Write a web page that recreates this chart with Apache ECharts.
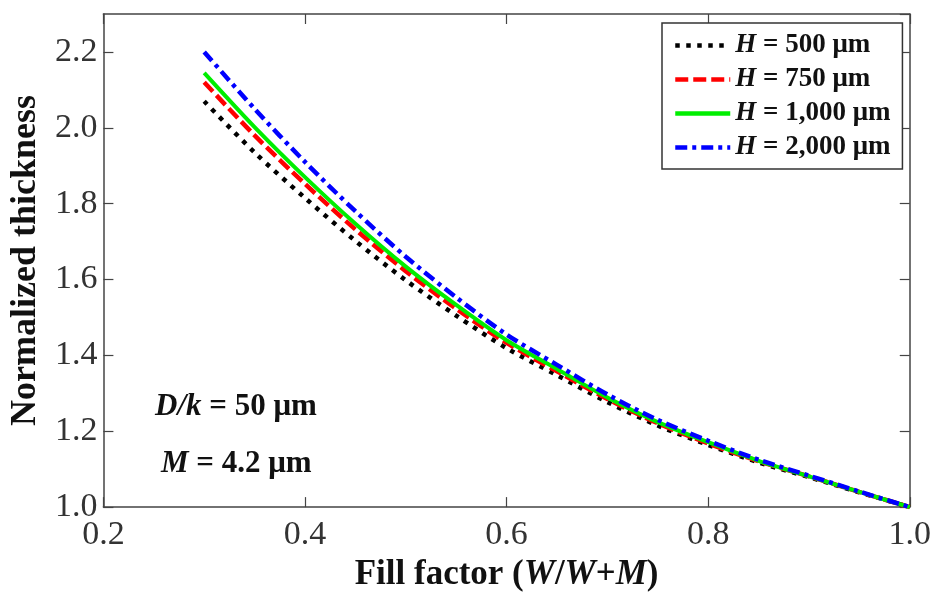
<!DOCTYPE html>
<html>
<head>
<meta charset="utf-8">
<title>Normalized thickness vs fill factor</title>
<script src="https://cdn.jsdelivr.net/npm/echarts@6/dist/echarts.min.js"></script>
<style>
html, body { margin: 0; padding: 0; background: #fff; }
#main { width: 934px; height: 597px; }
</style>
</head>
<body>
<div id="main"></div>
<script>
// values
var fillFactor = [0.30, 0.35, 0.40, 0.45, 0.50, 0.55, 0.60, 0.65, 0.70, 0.75, 0.80, 0.85, 0.90, 0.95, 1.00];
var h500  = [2.070, 1.935, 1.815, 1.702, 1.598, 1.505, 1.419, 1.348, 1.277, 1.215, 1.164, 1.118, 1.079, 1.039, 1.000];
var h750  = [2.120, 1.980, 1.852, 1.732, 1.622, 1.523, 1.433, 1.358, 1.285, 1.221, 1.168, 1.121, 1.081, 1.040, 1.000];
var h1000 = [2.145, 2.002, 1.870, 1.747, 1.634, 1.533, 1.440, 1.364, 1.289, 1.224, 1.171, 1.122, 1.081, 1.040, 1.000];
var h2000 = [2.200, 2.050, 1.910, 1.780, 1.660, 1.553, 1.455, 1.375, 1.297, 1.230, 1.175, 1.125, 1.083, 1.041, 1.000];
var seriesNames = ['H = 500 μm', 'H = 750 μm', 'H = 1,000 μm', 'H = 2,000 μm'];
var seriesColors = ['#000000', '#ff0000', '#00ee00', '#0000ff'];

var serif = "'Liberation Serif', 'Times New Roman', serif";

function pairs(ys) {
    var out = [];
    for (var i = 0; i < fillFactor.length; i++) {
        out.push([fillFactor[i], ys[i]]);
    }
    return out;
}

var myChart = echarts.init(document.getElementById('main'));

var frameAxis = {
    axisLine: { show: true, onZero: false, lineStyle: { color: '#444', width: 1.5 } },
    axisTick: { show: true, inside: true, length: 10, lineStyle: { color: '#444', width: 1.2 } },
    splitLine: { show: false }
};

var option = {
    backgroundColor: '#fff',
    animation: false,
    grid: { left: 102, right: 24, top: 14, bottom: 79 },
    xAxis: [{
        type: 'value', position: 'bottom', min: 0.2, max: 1.0, interval: 0.2,
        axisLine: frameAxis.axisLine, axisTick: frameAxis.axisTick, splitLine: frameAxis.splitLine,
        axisLabel: { fontFamily: serif, fontSize: 34, color: '#333', margin: 11,
            formatter: function (v) { return v.toFixed(1); } },
        name: '{b|Fill factor (}{i|W}{b|/}{i|W}{b|+}{i|M}{b|)}',
        nameLocation: 'middle', nameGap: 44,
        nameTextStyle: {
            rich: {
                b: { fontFamily: serif, fontSize: 35, fontWeight: 'bold', color: '#111' },
                i: { fontFamily: serif, fontSize: 35, fontWeight: 'bold', fontStyle: 'italic', color: '#111' }
            }
        }
    }, {
        type: 'value', position: 'top', min: 0.2, max: 1.0, interval: 0.2,
        axisLine: frameAxis.axisLine, axisTick: frameAxis.axisTick, splitLine: frameAxis.splitLine,
        axisLabel: { show: false }
    }],
    yAxis: [{
        type: 'value', position: 'left', min: 1.0, max: 2.3, interval: 0.2,
        axisLine: frameAxis.axisLine, axisTick: frameAxis.axisTick, splitLine: frameAxis.splitLine,
        axisLabel: { fontFamily: serif, fontSize: 34, color: '#333', margin: 6, showMaxLabel: false,
            formatter: function (v) { return v.toFixed(1); } },
        name: 'Normalized thickness',
        nameLocation: 'middle', nameGap: 58,
        nameTextStyle: { fontFamily: serif, fontSize: 36, fontWeight: 'bold', color: '#111' }
    }, {
        type: 'value', position: 'right', min: 1.0, max: 2.3, interval: 0.2,
        axisLine: frameAxis.axisLine, axisTick: frameAxis.axisTick, splitLine: frameAxis.splitLine,
        axisLabel: { show: false }
    }],
    legend: {
        orient: 'vertical',
        left: 662, top: 23,
        backgroundColor: '#fff',
        borderColor: '#333', borderWidth: 1.5, borderRadius: 0,
        padding: [9, 12, 8, 11],
        itemWidth: 55, itemHeight: 14, itemGap: 7,
        itemStyle: { opacity: 0 },
        lineStyle: { width: 4.5 },
        data: seriesNames,
        formatter: function (name) {
            return '{i|H}{b|' + name.slice(1) + '}';
        },
        textStyle: {
            rich: {
                i: { fontFamily: serif, fontSize: 27, fontWeight: 'bold', fontStyle: 'italic', color: '#111', lineHeight: 26 },
                b: { fontFamily: serif, fontSize: 27, fontWeight: 'bold', color: '#111', lineHeight: 26 }
            }
        }
    },
    graphic: [{
        type: 'text', left: 155, top: 391, z: 10,
        style: {
            text: '{i|D/k}{b| = 50 μm}',
            rich: {
                i: { fontFamily: serif, fontSize: 31, fontWeight: 'bold', fontStyle: 'italic', fill: '#111' },
                b: { fontFamily: serif, fontSize: 31, fontWeight: 'bold', fill: '#111' }
            }
        }
    }, {
        type: 'text', left: 161, top: 448, z: 10,
        style: {
            text: '{i|M}{b| = 4.2 μm}',
            rich: {
                i: { fontFamily: serif, fontSize: 31, fontWeight: 'bold', fontStyle: 'italic', fill: '#111' },
                b: { fontFamily: serif, fontSize: 31, fontWeight: 'bold', fill: '#111' }
            }
        }
    }],
    series: [{
        name: seriesNames[0], type: 'line', smooth: 0.3, symbol: 'none',
        data: pairs(h500),
        lineStyle: { color: seriesColors[0], width: 4.5, type: [4.5, 6.5] },
        itemStyle: { color: seriesColors[0] }
    }, {
        name: seriesNames[1], type: 'line', smooth: 0.3, symbol: 'none',
        data: pairs(h750),
        lineStyle: { color: seriesColors[1], width: 4.5, type: [13, 5] },
        itemStyle: { color: seriesColors[1] }
    }, {
        name: seriesNames[2], type: 'line', smooth: 0.3, symbol: 'none',
        data: pairs(h1000),
        lineStyle: { color: seriesColors[2], width: 4, type: 'solid' },
        itemStyle: { color: seriesColors[2] }
    }, {
        name: seriesNames[3], type: 'line', smooth: 0.3, symbol: 'none',
        data: pairs(h2000),
        lineStyle: { color: seriesColors[3], width: 4.5, type: [12, 5, 4, 5] },
        itemStyle: { color: seriesColors[3] }
    }]
};

myChart.setOption(option);
</script>
</body>
</html>
